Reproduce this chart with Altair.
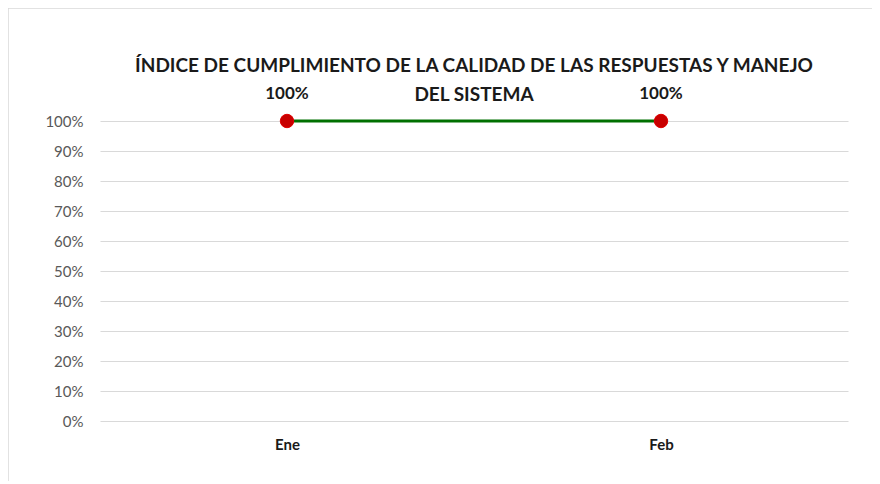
import altair as alt
import pandas as pd

months = ["Ene", "Feb"]
values = [1.0, 1.0]
labels = ["100%", "100%"]
title_lines = ["ÍNDICE DE CUMPLIMIENTO DE LA CALIDAD DE LAS RESPUESTAS Y MANEJO", "DEL SISTEMA"]

df = pd.DataFrame({"mes": months, "valor": values, "etiqueta": labels})

FONT = "Lato"
GRID = "#d9d9d9"

x_enc = alt.X("mes:N", sort=months, scale=alt.Scale(type="point", padding=0.5),
              axis=alt.Axis(title=None, labelAngle=0, labelFontWeight="bold", labelFontSize=15,
                            labelColor="#1a1a1a", labelPadding=16, domain=False, ticks=False, grid=False,
                            labelFont=FONT))
y_enc = alt.Y("valor:Q", scale=alt.Scale(domain=[0, 1]),
              axis=alt.Axis(title=None, format=".0%", values=[i / 10 for i in range(11)],
                            labelFontSize=15, labelColor="#595959", labelPadding=17,
                            domain=False, ticks=False, gridColor=GRID, gridWidth=1, labelFont=FONT))

base = alt.Chart(df)

line = base.mark_line(color="#007000", strokeWidth=3).encode(x=x_enc, y=y_enc)
pts = base.mark_point(filled=True, shape="circle", size=180, fill="#C80000", stroke="#E00000",
                      strokeWidth=1, opacity=1).encode(x=x_enc, y=y_enc)
txt = base.mark_text(dy=-27, fontSize=17, fontWeight="bold", font=FONT, color="#1a1a1a",
                     baseline="middle").encode(x=x_enc, y=y_enc, text="etiqueta:N")

tdf = pd.DataFrame({"t": title_lines, "i": [0, 1]})
title1 = alt.Chart(tdf.iloc[[0]]).mark_text(fontSize=19, fontWeight="bold", font=FONT, color="#1a1a1a",
                                            baseline="middle", align="center").encode(
    x=alt.value(374), y=alt.value(-55), text="t:N")
title2 = alt.Chart(tdf.iloc[[1]]).mark_text(fontSize=19, fontWeight="bold", font=FONT, color="#1a1a1a",
                                            baseline="middle", align="center").encode(
    x=alt.value(374), y=alt.value(-26), text="t:N")

border_top = alt.Chart(pd.DataFrame({"a": [0]})).mark_rule(color=GRID, strokeWidth=1.5).encode(
    x=alt.value(-92), x2=alt.value(772), y=alt.value(-113))
border_left = alt.Chart(pd.DataFrame({"a": [0]})).mark_rule(color=GRID, strokeWidth=1.5).encode(
    x=alt.value(-92), y=alt.value(-113), y2=alt.value(360))

chart = alt.layer(border_top, border_left, line, pts, txt, title1, title2).properties(
    width=748, height=300,
    autosize=alt.AutoSizeParams(type="none"),
    padding={"left": 92, "top": 113, "right": 24, "bottom": 60},
).configure(background="white", view=alt.ViewConfig(stroke=None))

chart.save("out.html", embed_options={"renderer": "svg", "actions": False})
